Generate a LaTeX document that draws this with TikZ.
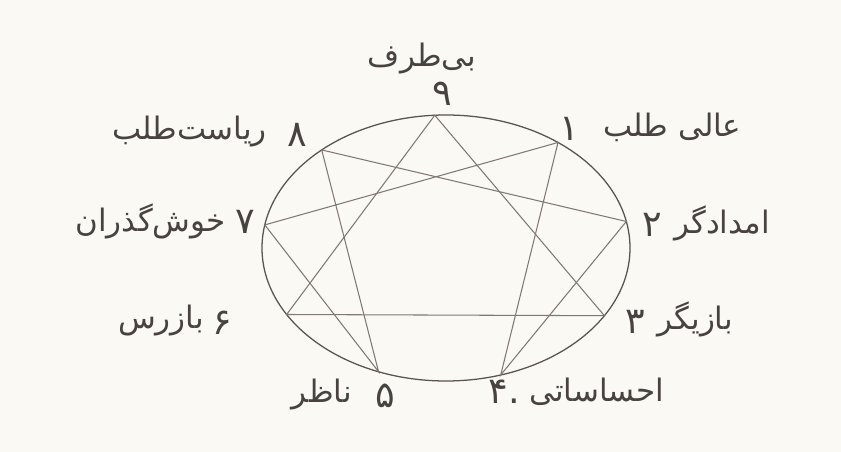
\documentclass[tikz,border=0pt]{standalone}
\usepackage{fontspec}
\usepackage{xcolor}
\usepackage{tikz}
\usetikzlibrary{calc}
\TeXXeTstate=1
\newfontfamily\persianfont[Script=Arabic]{DejaVu Sans}
\definecolor{paperBg}{RGB}{250, 249, 243}
\definecolor{ringGray}{RGB}{90, 83, 80}
\definecolor{starGray}{RGB}{130, 120, 115}
\definecolor{inkGray}{RGB}{72, 66, 64}
\tikzset{
  ring/.style={
    draw=ringGray, line width=0.9pt
  },
  starline/.style={
    draw=starGray, line width=0.75pt, line join=miter
  },
  numlabel/.style={
    inner sep=0pt, text=inkGray,
    font=\persianfont\fontsize{26pt}{30pt}\selectfont
  },
  namelabel/.style={
    inner sep=0pt, text=inkGray,
    font=\persianfont\fontsize{22pt}{26pt}\selectfont
  }
}
\begin{document}
\begin{tikzpicture}[x=0.025cm, y=0.025cm]

% --- page ---
\fill[paperBg] (0,0) rectangle (841,452);
\useasboundingbox (0,0) rectangle (841,452);

% --- circle and its nine points ---
\coordinate (c) at (446,204);
\draw[ring] (c) ellipse [x radius=184, y radius=133];
\foreach \n/\a in {9/93.5, 1/52.5, 2/11.5, 3/-30.6, 4/-72.7, 5/-111.5, 6/-150, 7/170, 8/132.5}
  \coordinate (p\n) at ($(c)+(\a:184 and 133)$);

% --- triangle 9-3-6 ---
\draw[starline] (p9) -- (p3) -- (p6) -- cycle;

% --- hexad 1-4-2-8-5-7 ---
\draw[starline] (p1) -- (p4) -- (p2) -- (p8) -- (p5) -- (p7) -- cycle;

% --- numbers ---
\node[numlabel] (n9) at (442,358) {۹};
\node[numlabel] (n1) at (569,323) {۱};
\node[numlabel] (n2) at (652,227) {۲};
\node[numlabel] (n3) at (635,130) {۳};
\node[numlabel] (n4) at (504,60) {.۴};
\node[numlabel] (n5) at (385,56) {۵};
\node[numlabel] (n6) at (222,129) {۶};
\node[numlabel] (n7) at (245,230) {۷};
\node[numlabel] (n8) at (297,317) {۸};

% --- names ---
\node[namelabel] (t9) at (422,393) {\beginR بی‌طرف\endR};
\node[namelabel, anchor=west] (t1) at (603,325) {\beginR عالی طلب\endR};
\node[namelabel, anchor=west] (t2) at (674,229) {\beginR امدادگر\endR};
\node[namelabel, anchor=west] (t3) at (657,133) {\beginR بازیگر\endR};
\node[namelabel, anchor=west] (t4) at (529,60) {\beginR احساساتی\endR};
\node[namelabel, anchor=east] (t5) at (352,57) {\beginR ناظر\endR};
\node[namelabel, anchor=east] (t6) at (204,131) {\beginR بازرس\endR};
\node[namelabel, anchor=east] (t7) at (226,231) {\beginR خوش‌گذران\endR};
\node[namelabel, anchor=east] (t8) at (267,320) {\beginR ریاست‌طلب\endR};

\end{tikzpicture}
\end{document}
